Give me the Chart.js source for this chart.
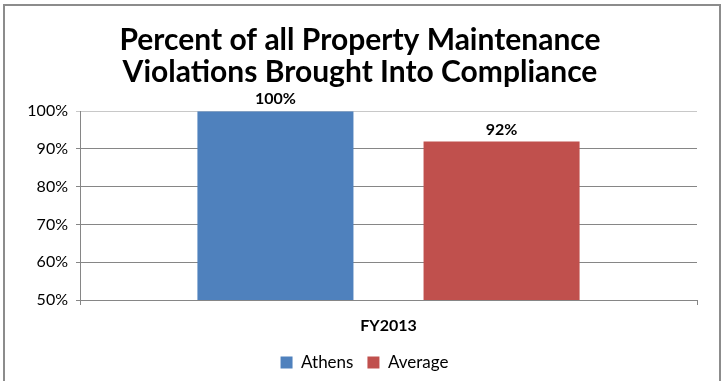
<!DOCTYPE html>
<html>
<head>
<meta charset="utf-8">
<script src="https://cdn.jsdelivr.net/npm/chart.js@4"></script>
<style>
  html, body { margin: 0; padding: 0; background: #fff; overflow: hidden; }
  #wrap { position: relative; width: 723px; height: 381px; }
  #frame { position: absolute; left: 3px; top: 4px; width: 714px; height: 400px;
           border: 2px solid #8c8c8c; border-bottom: none; }
  canvas { position: absolute; left: 0; top: 0; }
</style>
</head>
<body>
<div id="wrap">
  <div id="frame"></div>
  <canvas id="chart" width="723" height="381"></canvas>
</div>
<script>
// data
const categories = ['FY2013'];
const athens = [100];
const average = [92];
const yTicks = [50, 60, 70, 80, 90, 100];

const font = "Lato, 'Liberation Sans', sans-serif";

// draw the % labels over each bar
const barLabels = {
    id: 'barLabels',
    afterDatasetsDraw(chart) {
        const ctx = chart.ctx;
        ctx.save();
        ctx.font = 'bold 16px ' + font;
        ctx.fillStyle = '#000';
        ctx.textAlign = 'center';
        ctx.textBaseline = 'bottom';
        chart.data.datasets.forEach((ds, i) => {
            chart.getDatasetMeta(i).data.forEach((bar, j) => {
                ctx.fillText(ds.data[j] + '%', bar.x, bar.y - 4);
            });
        });
        ctx.restore();
    }
};

// title and legend sit a bit right of the plot centre in the original
const nudge = {
    id: 'nudge',
    afterLayout(chart) {
        if (chart.titleBlock) chart.titleBlock.left += 23;
        if (chart.legend) chart.legend.left += 32;
    }
};

new Chart(document.getElementById('chart'), {
    type: 'bar',
    data: {
        labels: categories,
        datasets: [
            { label: 'Athens', data: athens, backgroundColor: '#4F81BD' },
            { label: 'Average', data: average, backgroundColor: '#C0504D' }
        ]
    },
    options: {
        responsive: false,
        animation: false,
        events: [],
        categoryPercentage: 0.733,
        barPercentage: 0.69,
        layout: { padding: { left: 0, right: 26, top: 24, bottom: 0 } },
        plugins: {
            title: {
                display: true,
                text: ['Percent of all Property Maintenance', 'Violations Brought Into Compliance'],
                color: '#000',
                font: { family: font, size: 30, weight: 'bold', lineHeight: 1.07 },
                padding: { top: 0, bottom: 23 }
            },
            legend: {
                position: 'bottom',
                labels: {
                    color: '#000',
                    font: { family: font, size: 17 },
                    boxWidth: 12,
                    boxHeight: 12,
                    padding: 14
                }
            },
            tooltip: { enabled: false }
        },
        scales: {
            x: {
                grid: { display: true, drawOnChartArea: false, color: '#868686', tickLength: 5, offset: true },
                border: { color: '#868686' },
                ticks: { color: '#000', font: { family: font, size: 16, weight: 'bold' }, padding: 11 },
                afterFit(scale) { scale.height = 40; }
            },
            y: {
                min: 50,
                max: 100,
                afterBuildTicks(scale) { scale.ticks = yTicks.map(v => ({ value: v })); },
                grid: {
                    color: ctx => ctx.tick && ctx.tick.value === 100 ? '#c8c8c8' : '#868686',
                    tickLength: 4
                },
                border: { color: '#868686' },
                ticks: { color: '#000', font: { family: font, size: 16 }, padding: 8,
                         callback: v => v + '%' },
                afterFit(scale) { scale.width = 80; }
            }
        }
    },
    plugins: [barLabels, nudge]
});
</script>
</body>
</html>
